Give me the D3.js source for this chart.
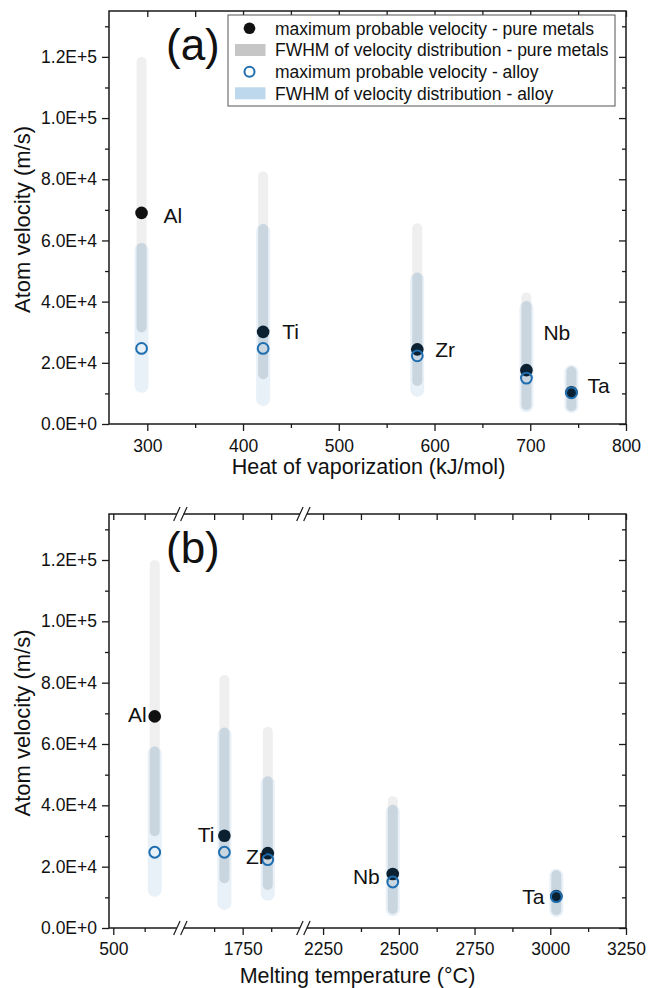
<!DOCTYPE html>
<html>
<head>
<meta charset="utf-8">
<script src="https://cdn.jsdelivr.net/npm/d3@7"></script>
<style>
  body { margin: 0; background: #fff; }
  svg { display: block; font-family: 'Liberation Sans', Arial, sans-serif; }
</style>
</head>
<body>
<div id="chart"></div>
<script>
// values
const ELEMENTS = ['Al', 'Ti', 'Zr', 'Nb', 'Ta']
const HEAT_OF_VAPORIZATION = [294, 421, 582, 696, 743]
const MELTING_TEMPERATURE = [665, 1670, 1860, 2480, 3020]
const PEAK_PURE = [69000, 30100, 24400, 17600, 10400]
const PEAK_ALLOY = [24700, 24700, 22300, 15000, 10200]
const FWHM_PURE_LOW = [29900, 14600, 12400, 4600, 4200]
const FWHM_PURE_HIGH = [120000, 82500, 65600, 43000, 18800]
const FWHM_ALLOY_LOW = [10200, 5900, 8900, 3800, 3600]
const FWHM_ALLOY_HIGH = [59200, 65400, 49500, 40200, 19300]

const LABEL_Y_A = [68200, 30400, 24500, 30000, 12600]
const LABEL_DX_A = [22, 19, 18, 17, 16]
const LABEL_Y_B = [69800, 30600, 23200, 16700, 10200]
const LABEL_DX_B = [-8, -10, -2, -13, -12]

const Y_DOMAIN = [0, 135000]
const Y_MAJOR = [0, 20000, 40000, 60000, 80000, 100000, 120000]
const Y_MINOR = [10000, 30000, 50000, 70000, 90000, 110000, 130000]

const HEAT_DOMAIN = [260, 800]
const HEAT_MAJOR = [300, 400, 500, 600, 700, 800]
const HEAT_MINOR = [350, 450, 550, 650, 750]

const MELT_SEGMENTS = [[483, 767], [1477, 2016], [2185, 3250]]
const MELT_MAJOR = [500, 1750, 2250, 2500, 2750, 3000, 3250]
const MELT_MINOR = [625, 1625, 1875, 2375, 2625, 2875, 3125]

const LEGEND_LABELS = [
  'maximum probable velocity - pure metals',
  'FWHM of velocity distribution - pure metals',
  'maximum probable velocity - alloy',
  'FWHM of velocity distribution - alloy'
]

const SIZE = Object.freeze({ WIDTH: 655, HEIGHT: 988 }),
      PANEL_A = Object.freeze({ LEFT: 109, RIGHT: 626, TOP: 11, BOTTOM: 424 }),
      PANEL_B = Object.freeze({ LEFT: 109, RIGHT: 626, TOP: 514, BOTTOM: 928 }),
      BREAK_FRACTIONS = [0.138, 0.376],
      COLORS = Object.freeze({
        AXIS: '#1a1a1a',
        PURE_BAR: '#efefef',
        ALLOY_BAR: '#e8f0f8',
        OVERLAP: '#c9d6e0',
        DOT: '#111111',
        DOT_TINTED: '#0b2131',
        CIRCLE: '#1f6eb0',
        LEGEND_GRAY: '#c6c6c6',
        LEGEND_BLUE: '#bdd7ec'
      }),
      BAR_WIDTH = Object.freeze({ PURE: 10, ALLOY: 14 })

const formatSci = (d) => {
  if (d === 0) return '0.0E+0'
  const e = Math.floor(Math.log10(d))
  return `${(d / 10 ** e).toFixed(1)}E+${e}`
}

const rows = ELEMENTS.map((name, i) => ({
  name,
  heat: HEAT_OF_VAPORIZATION[i],
  melt: MELTING_TEMPERATURE[i],
  peakPure: PEAK_PURE[i],
  peakAlloy: PEAK_ALLOY[i],
  pureLow: FWHM_PURE_LOW[i],
  pureHigh: FWHM_PURE_HIGH[i],
  alloyLow: FWHM_ALLOY_LOW[i],
  alloyHigh: FWHM_ALLOY_HIGH[i]
}))

const svg = d3.select('#chart')
  .append('svg')
  .attr('width', SIZE.WIDTH)
  .attr('height', SIZE.HEIGHT)

const styleAxis = (g, fontSize) => {
  g.select('.domain').remove()
  g.selectAll('.tick line').attr('stroke', COLORS.AXIS).attr('stroke-width', 1.3)
  g.selectAll('.tick text')
    .attr('fill', '#111')
    .style('font-size', `${fontSize}px`)
    .style('font-family', "'Liberation Sans', Arial, sans-serif")
}

const drawAxes = (panel, xScale, yScale, xMajor, xMinor, padX) => {
  const axes = svg.append('g')
  axes.append('g')
    .attr('transform', `translate(0, ${panel.BOTTOM})`)
    .call(d3.axisBottom(xScale).tickValues(xMajor).tickSize(7).tickPadding(padX).tickFormat(d3.format('d')))
    .call(g => styleAxis(g, 17.5))
  axes.append('g')
    .attr('transform', `translate(0, ${panel.BOTTOM})`)
    .call(d3.axisBottom(xScale).tickValues(xMinor).tickSize(4).tickFormat(''))
    .call(g => styleAxis(g, 17.5))
  axes.append('g')
    .attr('transform', `translate(0, ${panel.TOP})`)
    .call(d3.axisTop(xScale).tickValues(xMajor.concat(xMinor)).tickSize(-6).tickFormat(''))
    .call(g => styleAxis(g, 17.5))
  axes.append('g')
    .attr('transform', `translate(${panel.LEFT}, 0)`)
    .call(d3.axisLeft(yScale).tickValues(Y_MAJOR).tickSize(7).tickPadding(5).tickFormat(formatSci))
    .call(g => styleAxis(g, 17.5))
  axes.append('g')
    .attr('transform', `translate(${panel.LEFT}, 0)`)
    .call(d3.axisLeft(yScale).tickValues(Y_MINOR).tickSize(4).tickFormat(''))
    .call(g => styleAxis(g, 17.5))
  axes.append('g')
    .attr('transform', `translate(${panel.RIGHT}, 0)`)
    .call(d3.axisRight(yScale).tickValues(Y_MAJOR).tickSize(-7).tickFormat(''))
    .call(g => styleAxis(g, 17.5))
  axes.append('g')
    .attr('transform', `translate(${panel.RIGHT}, 0)`)
    .call(d3.axisRight(yScale).tickValues(Y_MINOR).tickSize(-4).tickFormat(''))
    .call(g => styleAxis(g, 17.5))

  axes.append('rect')
    .attr('x', panel.LEFT)
    .attr('y', panel.TOP)
    .attr('width', panel.RIGHT - panel.LEFT)
    .attr('height', panel.BOTTOM - panel.TOP)
    .attr('fill', 'none')
    .attr('stroke', COLORS.AXIS)
    .attr('stroke-width', 1.5)
  return axes
}

const drawBreaks = (axes, panel, positions) => {
  positions.forEach(xb => {
    [panel.TOP, panel.BOTTOM].forEach(yb => {
      axes.append('rect')
        .attr('x', xb - 3.5)
        .attr('y', yb - 2)
        .attr('width', 7)
        .attr('height', 4)
        .attr('fill', '#fff')
      ;[-3.5, 3.5].forEach(o => {
        axes.append('line')
          .attr('x1', xb + o - 3.2).attr('y1', yb + 7)
          .attr('x2', xb + o + 3.2).attr('y2', yb - 7)
          .attr('stroke', COLORS.AXIS)
          .attr('stroke-width', 1.2)
      })
    })
  })
}

const drawMarks = (xScale, yScale, key, labelY, labelDx, anchor) => {
  const g = svg.append('g')
  const bar = (sel, w, lo, hi, color) => sel
    .attr('x', d => xScale(d[key]) - w / 2)
    .attr('width', w)
    .attr('y', d => yScale(hi(d)))
    .attr('height', d => yScale(lo(d)) - yScale(hi(d)))
    .attr('rx', w / 2)
    .attr('fill', color)

  g.selectAll('rect.alloy').data(rows).enter().append('rect')
    .attr('class', 'alloy')
    .call(s => bar(s, BAR_WIDTH.ALLOY, d => d.alloyLow, d => d.alloyHigh, COLORS.ALLOY_BAR))
  g.selectAll('rect.pure').data(rows).enter().append('rect')
    .attr('class', 'pure')
    .call(s => bar(s, BAR_WIDTH.PURE, d => d.pureLow, d => d.pureHigh, COLORS.PURE_BAR))
  g.selectAll('rect.overlap').data(rows.filter(d => Math.min(d.pureHigh, d.alloyHigh) > Math.max(d.pureLow, d.alloyLow))).enter().append('rect')
    .attr('class', 'overlap')
    .call(s => bar(s, BAR_WIDTH.PURE, d => Math.max(d.pureLow, d.alloyLow), d => Math.min(d.pureHigh, d.alloyHigh), COLORS.OVERLAP))

  g.selectAll('circle.pure').data(rows).enter().append('circle')
    .attr('class', 'pure')
    .attr('cx', d => xScale(d[key]))
    .attr('cy', d => yScale(d.peakPure))
    .attr('r', 6.3)
    .attr('fill', d => (d.peakPure >= d.alloyLow && d.peakPure <= d.alloyHigh) ? COLORS.DOT_TINTED : COLORS.DOT)

  g.selectAll('circle.alloy').data(rows).enter().append('circle')
    .attr('class', 'alloy')
    .attr('cx', d => xScale(d[key]))
    .attr('cy', d => yScale(d.peakAlloy))
    .attr('r', 5.4)
    .attr('fill', 'none')
    .attr('stroke', COLORS.CIRCLE)
    .attr('stroke-width', 2)

  g.selectAll('text.name').data(rows).enter().append('text')
    .attr('class', 'name')
    .attr('x', (d, i) => xScale(d[key]) + labelDx[i])
    .attr('y', (d, i) => yScale(labelY[i]))
    .attr('dy', '0.36em')
    .attr('text-anchor', anchor)
    .style('font-size', '21px')
    .attr('fill', '#111')
    .text(d => d.name)
}

const drawTitles = (panel, xTitle, xTitleY, xTitleDx, tag, tagY) => {
  svg.append('text')
    .attr('x', (panel.LEFT + panel.RIGHT) / 2 + xTitleDx)
    .attr('y', xTitleY)
    .attr('text-anchor', 'middle')
    .style('font-size', '21.5px')
    .attr('fill', '#111')
    .text(xTitle)
  svg.append('text')
    .attr('transform', `translate(30, ${(panel.TOP + panel.BOTTOM) / 2 + 2}) rotate(-90)`)
    .attr('text-anchor', 'middle')
    .style('font-size', '22px')
    .attr('fill', '#111')
    .text('Atom velocity (m/s)')
  svg.append('text')
    .attr('x', 166)
    .attr('y', tagY)
    .style('font-size', '44px')
    .attr('fill', '#111')
    .text(tag)
}

const drawLegend = () => {
  const legend = svg.append('g').attr('id', 'legend')
  const rowY = [28.3, 50, 71.7, 93.3]
  legend.append('rect')
    .attr('x', 228).attr('y', 15)
    .attr('width', 387).attr('height', 91)
    .attr('fill', '#fff')
    .attr('stroke', '#555')
    .attr('stroke-width', 1)
  legend.append('circle')
    .attr('cx', 249.5).attr('cy', rowY[0]).attr('r', 5.8)
    .attr('fill', COLORS.DOT)
  legend.append('rect')
    .attr('x', 235).attr('y', rowY[1] - 6).attr('width', 30.5).attr('height', 12)
    .attr('fill', COLORS.LEGEND_GRAY)
  legend.append('circle')
    .attr('cx', 249.5).attr('cy', rowY[2]).attr('r', 5)
    .attr('fill', 'none')
    .attr('stroke', COLORS.CIRCLE)
    .attr('stroke-width', 2)
  legend.append('rect')
    .attr('x', 235).attr('y', rowY[3] - 6).attr('width', 30.5).attr('height', 12)
    .attr('fill', COLORS.LEGEND_BLUE)
  legend.selectAll('text')
    .data(LEGEND_LABELS)
    .enter()
    .append('text')
    .attr('x', 275)
    .attr('y', (d, i) => rowY[i])
    .attr('dy', '0.36em')
    .style('font-size', '17.5px')
    .attr('fill', '#111')
    .text(d => d)
}

// panel (a): heat of vaporization
const xA = d3.scaleLinear().domain(HEAT_DOMAIN).range([PANEL_A.LEFT, PANEL_A.RIGHT]),
      yA = d3.scaleLinear().domain(Y_DOMAIN).range([PANEL_A.BOTTOM, PANEL_A.TOP])

drawMarks(xA, yA, 'heat', LABEL_Y_A, LABEL_DX_A, 'start')
drawAxes(PANEL_A, xA, yA, HEAT_MAJOR, HEAT_MINOR, 9)
drawTitles(PANEL_A, 'Heat of vaporization (kJ/mol)', 473.5, 1, '(a)', 60)
drawLegend()

// panel (b): melting temperature, broken axis
const widthB = PANEL_B.RIGHT - PANEL_B.LEFT,
      breakPx = BREAK_FRACTIONS.map(f => PANEL_B.LEFT + f * widthB)
const xB = d3.scaleLinear()
        .domain(MELT_SEGMENTS.flat())
        .range([PANEL_B.LEFT, breakPx[0], breakPx[0], breakPx[1], breakPx[1], PANEL_B.RIGHT]),
      yB = d3.scaleLinear().domain(Y_DOMAIN).range([PANEL_B.BOTTOM, PANEL_B.TOP])

drawMarks(xB, yB, 'melt', LABEL_Y_B, LABEL_DX_B, 'end')
const axesB = drawAxes(PANEL_B, xB, yB, MELT_MAJOR, MELT_MINOR, 8)
drawBreaks(axesB, PANEL_B, breakPx)
drawTitles(PANEL_B, 'Melting temperature (°C)', 982.5, -10, '(b)', 563)
</script>
</body>
</html>
